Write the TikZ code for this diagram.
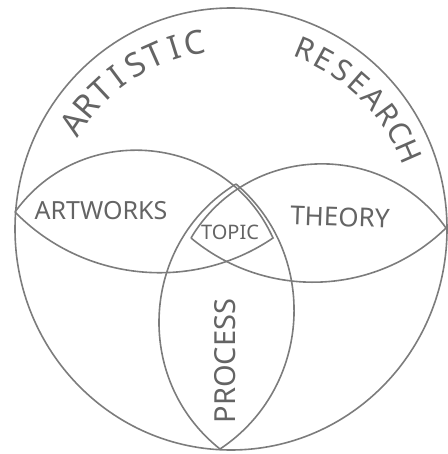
\documentclass[tikz,border=0pt]{standalone}
\usepackage{fontspec}
\setmainfont{Noto Sans}
\usetikzlibrary{calc}
\definecolor{pencil}{HTML}{7C7C7C}
\definecolor{lead}{HTML}{646464}

\begin{document}
\begin{tikzpicture}[
    x=1pt, y=1pt,
    every node/.style={text=lead, inner sep=0pt},
    outline/.style={draw=pencil, line width=1.6pt},
    letter/.style={font=\fontsize{33}{33}\selectfont},
    field/.style={font=\fontsize{25}{25}\selectfont}
    ]
    \useasboundingbox (0,0) rectangle (447,-454);
    \coordinate (ring) at (231,-229);
    \coordinate (aw-w) at (15,-212);
    \coordinate (aw-e) at (273,-238);
    \coordinate (th-w) at (191,-238);
    \coordinate (th-e) at (446,-228);
    \coordinate (pr-n) at (236,-184);
    \coordinate (pr-s) at (220,-449);
    \draw[outline] (ring) ellipse[x radius=216, y radius=221];
    \draw[outline] (aw-w) to[bend left=60, looseness=1.13] (aw-e) to[bend left=40, looseness=0.96] (aw-w);
    \draw[outline] (th-w) to[bend left=57, looseness=1.1] (th-e) to[bend left=42, looseness=0.98] (th-w);
    \draw[outline] (pr-n) to[bend left=53, looseness=1.06] (pr-s) to[bend left=55, looseness=1.08] (pr-n);
    \foreach \ch [count=\i, evaluate=\i as \ang using 146-(\i-1)*45/7] in {A,R,T,I,S,T,I,C}
        \node[letter, rotate=\ang-90] (artistic-\i) at ($(ring)+(\ang:190)$) {\ch};
    \foreach \ch [count=\i, evaluate=\i as \ang using 67.6-(\i-1)*44/7] in {R,E,S,E,A,R,C,H}
        \node[letter, font=\fontsize{30}{30}\selectfont, rotate=\ang-90] (research-\i) at ($(ring)+(\ang:194)$) {\ch};
    \node[field] (artworks) at (101,-211) {ARTWORKS};
    \node[field, font=\fontsize{26}{26}\selectfont, rotate=-2] (theory) at (340,-217) {THEORY};
    \node[field, font=\fontsize{20}{20}\selectfont] (topic) at (230,-232) {TOPIC};
    \node[field, font=\fontsize{29}{29}\selectfont, rotate=90] (process) at (225,-361) {PROCESS};
\end{tikzpicture}
\end{document}
